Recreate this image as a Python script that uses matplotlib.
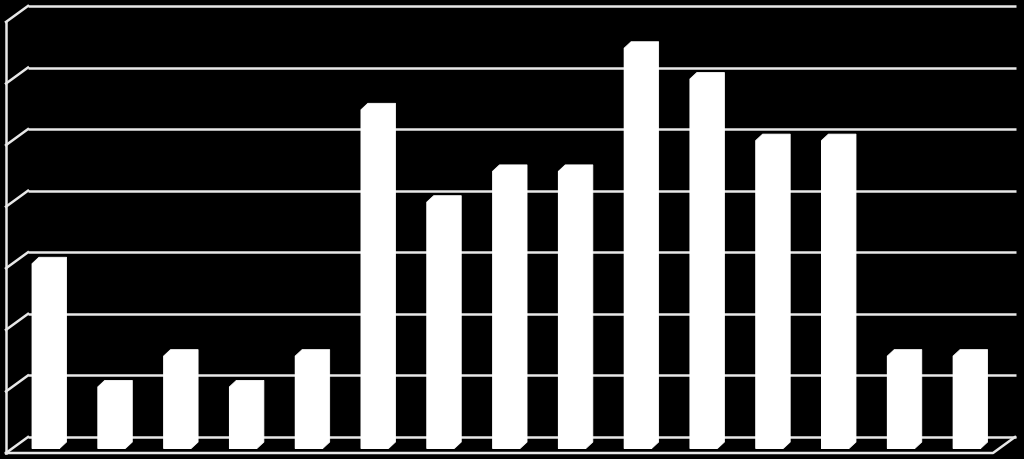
import matplotlib
matplotlib.use("Agg")
import matplotlib.pyplot as plt
from matplotlib.patches import Polygon
import numpy as np

# data (no labels shown in the chart)
categories = list(range(1, 16))
values = [6, 2, 3, 2, 3, 11, 8, 9, 9, 13, 12, 10, 10, 3, 3]
grid_step = 2
grid_max = 14

# pixel scale of the reference (used to size the fake 3D offsets)
px_x = 65.79   # pixels per category
px_y = 30.79   # pixels per value unit

bar_dx = 7.0 / px_x
bar_dy = 6.5 / px_y
front_w = 27.5 / px_x
half_span = 17.0 / px_x

wall_dy = 5.0 / px_y      # back wall sits a bit behind the bars
depth_dx = 22.0 / px_x    # front-to-back offset of the walls
depth_dy = 16.0 / px_y
back_left = -21.0 / px_x
back_right = 967.0 / px_x
front_right = 944.0 / px_x

line_col = "#e8e8e8"
lw = 1.8

fig = plt.figure(figsize=(10.24, 4.6), dpi=100)
fig.patch.set_facecolor("black")
ax = fig.add_axes([0, 0, 1, 1])
ax.set_facecolor("black")
ax.set_xlim(-49 / px_x, (1024 - 49) / px_x)
ax.set_ylim(-17 / px_y, 443 / px_y)
ax.axis("off")

# back wall gridlines + their diagonals on the left side wall
for g in np.arange(0, grid_max + grid_step, grid_step):
    yb = g + wall_dy
    ax.plot([back_left, back_right], [yb, yb], color=line_col, lw=lw, zorder=1,
            solid_capstyle="butt")
    ax.plot([back_left - depth_dx, back_left], [yb - depth_dy, yb], color=line_col,
            lw=lw, zorder=1)

# left front edge and floor
floor_front = wall_dy - depth_dy
ax.plot([back_left - depth_dx, back_left - depth_dx],
        [floor_front, grid_max + wall_dy - depth_dy], color=line_col, lw=lw, zorder=1)
ax.plot([back_left - depth_dx, front_right, front_right + depth_dx],
        [floor_front, floor_front, wall_dy], color=line_col, lw=lw, zorder=5)

# bars: front face with ax.bar, then the whole box outline on top (all white)
x = np.arange(len(categories))
xl = x - half_span
ax.bar(xl + front_w / 2, values, width=front_w, bottom=-bar_dy, color="white",
       linewidth=0, zorder=3)
for left, v in zip(xl, values):
    box = Polygon([(left, -bar_dy), (left, v - bar_dy), (left + bar_dx, v),
                   (left + front_w + bar_dx, v), (left + front_w + bar_dx, 0),
                   (left + front_w, -bar_dy)],
                  closed=True, facecolor="white", edgecolor="white", lw=0.6, zorder=4)
    ax.add_patch(box)

fig.savefig("out.png", dpi=100, facecolor="black")
